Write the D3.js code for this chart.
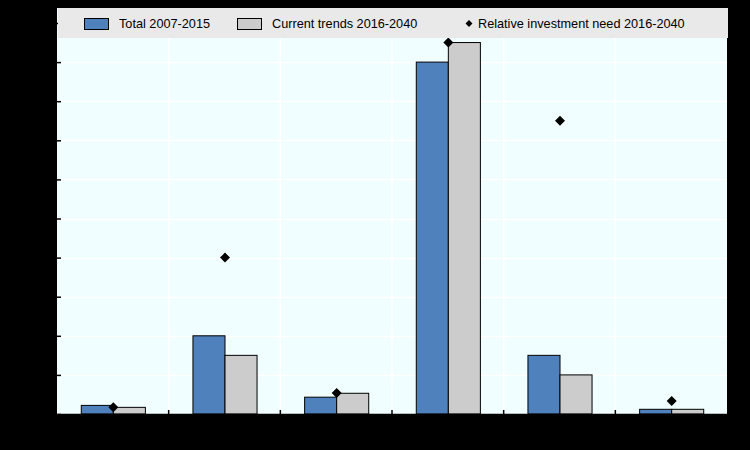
<!DOCTYPE html>
<html>
<head>
<meta charset="utf-8">
<script src="https://cdn.jsdelivr.net/npm/d3@7"></script>
<style>
  html, body { margin: 0; padding: 0; background: #000; }
  svg { display: block; }
  text { font-family: "Liberation Sans", Arial, sans-serif; }
</style>
</head>
<body>
<svg id="chart" width="750" height="450"></svg>
<script>
// ---- data (in tick units) ----
const categories = ["Sector 1", "Sector 2", "Sector 3", "Sector 4", "Sector 5", "Sector 6"];
const total20072015 = [0.22, 2.0, 0.43, 9.0, 1.5, 0.12];
const currentTrends20162040 = [0.17, 1.5, 0.53, 9.5, 1.0, 0.12];
const relativeNeed20162040 = [0.17, 4.0, 0.54, 9.5, 7.5, 0.33];
const yTicks = [0, 1, 2, 3, 4, 5, 6, 7, 8, 9, 10];
const seriesNames = ["Total 2007-2015", "Current trends 2016-2040", "Relative investment need 2016-2040"];
const barKeys = ["total", "trends"];

(function () {
const colors = { total: "#4f81bd", trends: "#cccccc" };

const svg = d3.select("#chart");
const W = 750, H = 450;
const pLeft = 57, pRight = 727, pBottom = 414, pTop = 8;

svg.append("rect").attr("width", W).attr("height", H).attr("fill", "#000");

const x0 = d3.scaleBand().domain(categories).range([pLeft, pRight])
  .paddingInner(0.426).paddingOuter(0.213);
const x1 = d3.scaleBand().domain(barKeys).range([0, x0.bandwidth()]);
const y = d3.scaleLinear().domain([0, 10]).range([pBottom, 23]);

// plot background
svg.append("rect").attr("x", pLeft).attr("y", pTop)
  .attr("width", pRight - pLeft).attr("height", pBottom - pTop)
  .attr("fill", "#f0feff");

// gridlines
const gridG = svg.append("g");
gridG.selectAll("line.h").data(yTicks.slice(1)).join("line")
  .attr("x1", pLeft).attr("x2", pRight)
  .attr("y1", d => Math.round(y(d)) + 0.5).attr("y2", d => Math.round(y(d)) + 0.5)
  .attr("stroke", "#ffffff").attr("stroke-width", 1.5);
const bounds = categories.slice(1).map(c => x0(c) - x0.step() * x0.paddingInner() / 2);
gridG.selectAll("line.v").data(bounds).join("line")
  .attr("x1", d => d).attr("x2", d => d)
  .attr("y1", pTop).attr("y2", pBottom)
  .attr("stroke", "#ffffff").attr("stroke-width", 1.5);

// y axis (black labels on black, as in the reference)
const yAxis = d3.axisLeft(y).tickValues(yTicks).tickSizeInner(-4).tickSizeOuter(0).tickPadding(10);
const yg = svg.append("g").attr("transform", `translate(${pLeft},0)`).call(yAxis);
yg.select(".domain").remove();
yg.selectAll(".tick line").attr("stroke", "#000").attr("stroke-width", 1.5);
yg.selectAll(".tick text").attr("fill", "#000").attr("font-size", 13);

// bars
const rows = categories.map((c, i) => ({ cat: c, total: total20072015[i], trends: currentTrends20162040[i], need: relativeNeed20162040[i] }));
const groups = svg.append("g").selectAll("g").data(rows).join("g")
  .attr("transform", d => `translate(${x0(d.cat)},0)`);
groups.selectAll("rect").data(d => barKeys.map(k => ({ key: k, value: d[k] }))).join("rect")
  .attr("x", d => x1(d.key) + 0.5)
  .attr("y", d => y(d.value))
  .attr("width", x1.bandwidth())
  .attr("height", d => pBottom - y(d.value))
  .attr("fill", d => colors[d.key])
  .attr("stroke", "#000").attr("stroke-width", 1);

// x axis
const xAxis = d3.axisBottom(x0).tickSize(0).tickPadding(10);
const xg = svg.append("g").attr("transform", `translate(0,${pBottom})`).call(xAxis);
xg.select(".domain").attr("stroke", "#000").attr("stroke-width", 1.5);
xg.selectAll(".tick text").attr("fill", "#000").attr("font-size", 13);
svg.append("g").selectAll("line").data(bounds).join("line")
  .attr("x1", d => d).attr("x2", d => d)
  .attr("y1", pBottom - 4).attr("y2", pBottom)
  .attr("stroke", "#000").attr("stroke-width", 1.5);

// diamonds
svg.append("g").selectAll("path").data(rows).join("path")
  .attr("d", d3.symbol().type(d3.symbolSquare).size(50)())
  .attr("transform", d => `translate(${x0(d.cat) + x0.bandwidth() / 2 + 0.5},${y(d.need)}) rotate(45)`)
  .attr("fill", "#000");

// legend
svg.append("rect").attr("x", pLeft + 1).attr("y", pTop).attr("width", pRight - pLeft).attr("height", 30)
  .attr("fill", "#e9e9e9");
const leg = svg.append("g");
const legX = [84, 237, 469];
leg.append("rect").attr("x", legX[0] + 0.5).attr("y", 18.5).attr("width", 24).attr("height", 11)
  .attr("fill", colors.total).attr("stroke", "#000");
leg.append("text").attr("x", 119).attr("y", 28).attr("font-size", 12.7).attr("fill", "#000").text(seriesNames[0]);
leg.append("rect").attr("x", legX[1] + 0.5).attr("y", 18.5).attr("width", 24).attr("height", 11)
  .attr("fill", colors.trends).attr("stroke", "#000");
leg.append("text").attr("x", 272).attr("y", 28).attr("font-size", 12.7).attr("fill", "#000").text(seriesNames[1]);
leg.append("path").attr("d", d3.symbol().type(d3.symbolSquare).size(24)())
  .attr("transform", `translate(${legX[2]},23.5) rotate(45)`).attr("fill", "#000");
leg.append("text").attr("x", 478).attr("y", 28).attr("font-size", 12.7).attr("fill", "#000").text(seriesNames[2]);
})();
</script>
</body>
</html>
